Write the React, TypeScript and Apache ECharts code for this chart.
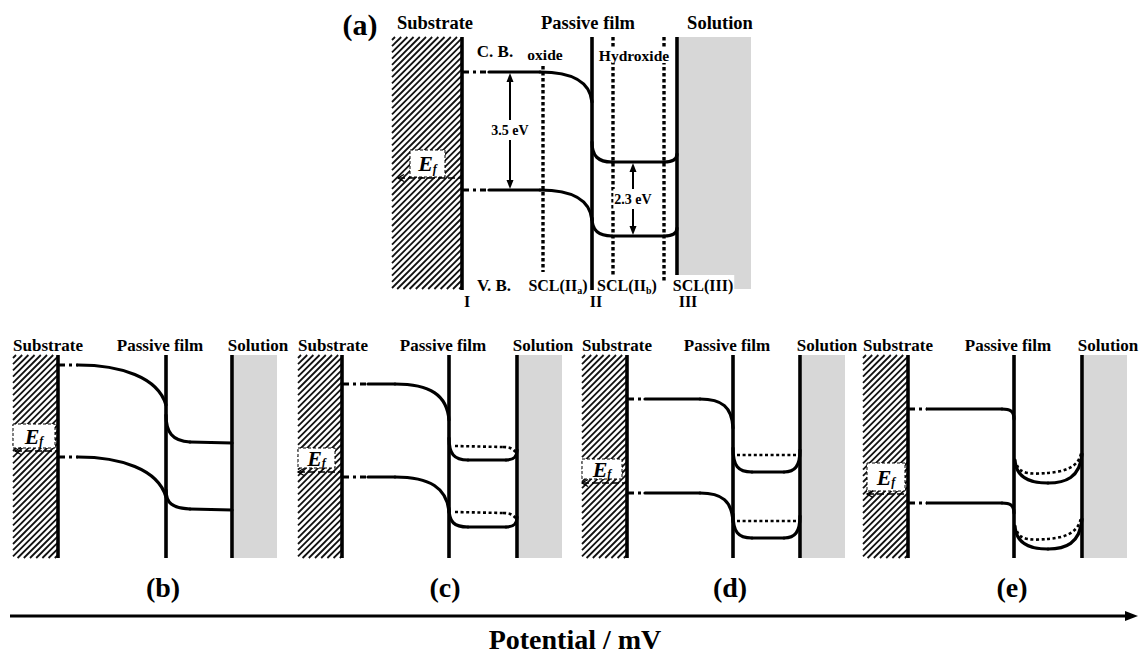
import React, { useEffect, useRef } from "react";
import * as echarts from "echarts";

const W = 1148;
const H = 657;
const FONT = "'Liberation Serif', 'Times New Roman', serif";

// ---------------- Data (diagram units, y grows downward) ----------------
// interfaces I / II / III : [x, yTop, yBottom]
const interfaceLines = [
  [462, 37, 290], [592, 37, 290], [677, 37, 290],
  [58, 355, 558], [166, 355, 558], [232, 355, 558],
  [342, 355, 558], [449, 355, 558], [517, 355, 558],
  [627, 355, 558], [733, 355, 558], [800, 355, 558],
  [908, 355, 558], [1014, 355, 558], [1082, 355, 558],
];
// space-charge-layer boundaries in (a): [x, yTop, yBottom]
const sclLines = [[543, 66, 272], [613, 37, 282], [664, 37, 282]];
// substrate (hatched) and solution (stippled) regions: [x0, y0, x1, y1]
const substrates = [
  [392, 37, 462, 289], [13, 355, 58, 558], [298, 355, 342, 558],
  [582, 355, 627, 558], [863, 355, 908, 558],
];
const solutions = [
  [679, 37, 751, 289], [234, 355, 277, 558], [519, 355, 562, 558],
  [802, 355, 845, 558], [1084, 355, 1127, 558],
];
// Fermi level markers: [boxX0, boxY0, boxX1, boxY1, lineX0, lineX1, lineY]
const fermiMarkers = [
  [410, 150, 445, 177, 398, 462, 178],
  [13, 424, 55, 448, 15, 58, 451],
  [298, 448, 335, 468, 298, 342, 472],
  [582, 459, 622, 479, 582, 627, 483],
  [867, 463, 905, 491, 867, 908, 494],
];
// band-gap arrows: [x, yTop, yBottom]
const gapArrows = [[510, 73, 189], [633, 163, 235]];
// potential axis: [x0, x1, y]
const potentialAxis = [[10, 1138, 616]];

// flat band stubs at the metal/oxide interface (dash-dot): [[x0,y],[x1,y]]
const stubs = [
  [[463, 72], [489, 72]], [[463, 190], [489, 190]],
  [[59, 365], [78, 365]], [[59, 457], [78, 457]],
  [[343, 384], [368, 384]], [[343, 477], [368, 477]],
  [[628, 399], [645, 399]], [[628, 493], [645, 493]],
  [[909, 409], [927, 409]], [[909, 503], [927, 503]],
];

// Band edges: first entry = start point, then [x, y] straight segment
// or [c1x, c1y, c2x, c2y, x, y] curved (cubic) segment.
// (a) steady state
const aCbOxide = [[489, 72], [540, 72], [572, 72, 590, 82, 592, 102]];
const aCbHydroxide = [[592, 142], [592, 156, 598, 162, 612, 162], [664, 162], [672, 162, 677, 160, 677, 154]];
const aVbOxide = [[489, 190], [540, 190], [572, 190, 590, 200, 592, 220]];
const aVbHydroxide = [[592, 218], [592, 230, 598, 236, 612, 236], [664, 236], [672, 236, 677, 234, 677, 228]];
// (b)
const bCbOxide = [[78, 365], [120, 365, 158, 377, 166, 405]];
const bCbHydroxide = [[166, 415], [166, 432, 172, 441, 190, 442], [232, 443]];
const bVbOxide = [[78, 457], [120, 457, 158, 469, 166, 497]];
const bVbHydroxide = [[166, 490], [166, 503, 172, 508, 190, 509], [232, 510]];
// (c)
const cCbOxide = [[368, 384], [395, 384], [430, 384, 447, 395, 449, 420]];
const cCbHydroxide = [[449, 438], [449, 454, 454, 460, 468, 460], [506, 460], [514, 460, 517, 457, 517, 450]];
const cCbShifted = [[455, 446], [503, 447], [510, 447, 514, 449, 516, 453]];
const cVbOxide = [[368, 477], [395, 477], [430, 477, 447, 488, 449, 512]];
const cVbHydroxide = [[449, 508], [449, 522, 454, 527, 468, 527], [506, 527], [514, 527, 517, 524, 517, 517]];
const cVbShifted = [[455, 512], [503, 513], [510, 513, 514, 515, 516, 519]];
// (d)
const dCbOxide = [[645, 399], [700, 399], [722, 399, 732, 407, 733, 428]];
const dCbHydroxide = [[733, 448], [733, 466, 738, 472, 752, 472], [784, 472], [795, 472, 800, 466, 800, 450]];
const dCbShifted = [[737, 455], [797, 455]];
const dVbOxide = [[645, 493], [700, 493], [722, 493, 732, 501, 733, 522]];
const dVbHydroxide = [[733, 514], [733, 532, 738, 538, 752, 538], [784, 538], [795, 538, 800, 532, 800, 516]];
const dVbShifted = [[737, 521], [797, 521]];
// (e)
const eCbOxide = [[927, 409], [1002, 409], [1010, 409, 1014, 411, 1014, 419]];
const eCbHydroxide = [[1015, 460], [1016, 480, 1035, 483, 1048, 483], [1065, 483, 1080, 478, 1082, 454]];
const eCbShifted = [[1017, 465], [1020, 475, 1035, 474, 1047, 473], [1062, 472, 1079, 468, 1081, 453]];
const eVbOxide = [[927, 503], [1002, 503], [1010, 503, 1014, 505, 1014, 513]];
const eVbHydroxide = [[1015, 526], [1016, 546, 1035, 549, 1048, 549], [1065, 549, 1080, 544, 1082, 519]];
const eVbShifted = [[1017, 531], [1020, 541, 1035, 540, 1047, 539], [1062, 538, 1079, 534, 1081, 517]];

const solidBands = [
  aCbOxide, aCbHydroxide, aVbOxide, aVbHydroxide,
  bCbOxide, bCbHydroxide, bVbOxide, bVbHydroxide,
  cCbOxide, cCbHydroxide, cVbOxide, cVbHydroxide,
  dCbOxide, dCbHydroxide, dVbOxide, dVbHydroxide,
  eCbOxide, eCbHydroxide, eVbOxide, eVbHydroxide,
];
const shiftedBands = [cCbShifted, cVbShifted, dCbShifted, dVbShifted, eCbShifted, eVbShifted];

// texts
const panelLetters = ["(b)", "(c)", "(d)", "(e)"];
const panelLetterX = [163, 445, 730, 1012];
const regionNames = ["Substrate", "Passive film", "Solution"];
const regionNameX = [
  [48, 160, 258], [333, 443, 543], [617, 727, 827], [898, 1008, 1108],
];

// ---------------- helpers ----------------
const boldText = (text: string, x: number, y: number, size: number, extra: any = {}) => ({
  type: "text",
  x,
  y,
  z: 100,
  silent: true,
  style: {
    text,
    fontFamily: FONT,
    fontWeight: "bold",
    fontSize: size,
    fill: "#000",
    align: "center",
    verticalAlign: "middle",
    ...extra,
  },
});

const subText = (main: string, sub: string, tail: string, x: number, y: number, extra: any = {}) => ({
  type: "text",
  x,
  y,
  z: 100,
  silent: true,
  style: {
    text: sub ? `{n|${main}}{s|${sub}}{n|${tail}}` : `{n|${main}}`,
    align: "center",
    verticalAlign: "middle",
    rich: {
      n: { fontFamily: FONT, fontWeight: "bold", fontSize: 16, lineHeight: 20, fill: "#000" },
      s: { fontFamily: FONT, fontWeight: "bold", fontSize: 10, fill: "#000", verticalAlign: "bottom" },
    },
    ...extra,
  },
});

function renderVLine(width: number, dash: any) {
  return (params: any, api: any) => {
    const a = api.coord([api.value(0), api.value(1)]);
    const b = api.coord([api.value(0), api.value(2)]);
    return {
      type: "line",
      shape: { x1: a[0], y1: a[1], x2: b[0], y2: b[1] },
      style: { stroke: "#000", lineWidth: width, lineDash: dash, fill: null },
    };
  };
}

function rectPx(api: any) {
  const p0 = api.coord([api.value(0), api.value(1)]);
  const p1 = api.coord([api.value(2), api.value(3)]);
  return {
    x0: Math.min(p0[0], p1[0]),
    x1: Math.max(p0[0], p1[0]),
    y0: Math.min(p0[1], p1[1]),
    y1: Math.max(p0[1], p1[1]),
  };
}

function renderHatch(params: any, api: any) {
  const { x0, x1, y0, y1 } = rectPx(api);
  const children: any[] = [
    { type: "rect", shape: { x: x0, y: y0, width: x1 - x0, height: y1 - y0 }, style: { fill: "#fff" } },
  ];
  for (let c = x0 + y0 + 3; c < x1 + y1; c += 6.2) {
    const xa = Math.max(x0, c - y1);
    const xb = Math.min(x1, c - y0);
    if (xb - xa > 0.5) {
      children.push({
        type: "line",
        shape: { x1: xa, y1: c - xa, x2: xb, y2: c - xb },
        style: { stroke: "#111", lineWidth: 1.8 },
      });
    }
  }
  return { type: "group", children };
}

function renderSolution(params: any, api: any) {
  const { x0, x1, y0, y1 } = rectPx(api);
  return {
    type: "rect",
    shape: { x: x0, y: y0, width: x1 - x0, height: y1 - y0 },
    style: { fill: "#d7d7d7" },
  };
}

function renderBand(list: number[][][], shifted: boolean) {
  return (params: any, api: any) => {
    const pts = list[params.dataIndex];
    const style = shifted
      ? { stroke: "#000", lineWidth: 2.6, lineDash: [3, 2.6], fill: null, lineCap: "butt" }
      : { stroke: "#000", lineWidth: 3.2, fill: null, lineCap: "round" };
    const children: any[] = [];
    let cur = api.coord([pts[0][0], pts[0][1]]);
    for (let i = 1; i < pts.length; i++) {
      const s = pts[i];
      if (s.length === 2) {
        const p = api.coord([s[0], s[1]]);
        children.push({ type: "line", shape: { x1: cur[0], y1: cur[1], x2: p[0], y2: p[1] }, style });
        cur = p;
      } else {
        const c1 = api.coord([s[0], s[1]]);
        const c2 = api.coord([s[2], s[3]]);
        const p = api.coord([s[4], s[5]]);
        children.push({
          type: "bezierCurve",
          shape: { x1: cur[0], y1: cur[1], cpx1: c1[0], cpy1: c1[1], cpx2: c2[0], cpy2: c2[1], x2: p[0], y2: p[1] },
          style,
        });
        cur = p;
      }
    }
    return { type: "group", children };
  };
}

function renderFermi(params: any, api: any) {
  const { x0, x1, y0, y1 } = rectPx(api);
  const la = api.coord([api.value(4), api.value(6)]);
  const lb = api.coord([api.value(5), api.value(6)]);
  const ly = la[1];
  return {
    type: "group",
    children: [
      {
        type: "rect",
        shape: { x: x0, y: y0, width: x1 - x0, height: y1 - y0 },
        style: { fill: "#fff", stroke: "#000", lineWidth: 1, lineDash: [3, 2] },
      },
      {
        type: "line",
        shape: { x1: la[0], y1: ly, x2: lb[0], y2: ly },
        style: { stroke: "#000", lineWidth: 1.6, lineDash: [7, 3] },
      },
      {
        type: "polyline",
        shape: { points: [[la[0] + 6, ly - 3.5], [la[0], ly], [la[0] + 6, ly + 3.5]] },
        style: { stroke: "#000", lineWidth: 1.3, fill: null },
      },
      {
        type: "text",
        x: (x0 + x1) / 2,
        y: (y0 + y1) / 2,
        style: {
          text: "{e|E}{f|f}",
          align: "center",
          verticalAlign: "middle",
          rich: {
            e: { fontFamily: FONT, fontStyle: "italic", fontWeight: "bold", fontSize: 22, lineHeight: 22, fill: "#000" },
            f: { fontFamily: FONT, fontStyle: "italic", fontWeight: "bold", fontSize: 12, fill: "#000", verticalAlign: "bottom" },
          },
        },
      },
    ],
  };
}

function renderGapArrow(params: any, api: any) {
  const a = api.coord([api.value(0), api.value(1)]);
  const b = api.coord([api.value(0), api.value(2)]);
  const x = a[0];
  const hw = 3.5;
  const hl = 9;
  return {
    type: "group",
    children: [
      { type: "line", shape: { x1: x, y1: a[1] + hl - 1, x2: x, y2: b[1] - hl + 1 }, style: { stroke: "#000", lineWidth: 2 } },
      { type: "polygon", shape: { points: [[x, a[1]], [x - hw, a[1] + hl], [x + hw, a[1] + hl]] }, style: { fill: "#000" } },
      { type: "polygon", shape: { points: [[x, b[1]], [x - hw, b[1] - hl], [x + hw, b[1] - hl]] }, style: { fill: "#000" } },
    ],
  };
}

function renderAxisArrow(params: any, api: any) {
  const a = api.coord([api.value(0), api.value(2)]);
  const b = api.coord([api.value(1), api.value(2)]);
  const y = a[1];
  return {
    type: "group",
    children: [
      { type: "line", shape: { x1: a[0], y1: y, x2: b[0] - 10, y2: y }, style: { stroke: "#000", lineWidth: 3 } },
      { type: "polygon", shape: { points: [[b[0], y], [b[0] - 13, y - 5], [b[0] - 13, y + 5]] }, style: { fill: "#000" } },
    ],
  };
}

const customSeries = (data: any[], renderItem: any, z: number) => ({
  type: "custom",
  data,
  renderItem,
  z,
  silent: true,
  clip: false,
  animation: false,
});

const stubSeries = (data: number[][]) => ({
  type: "line",
  data,
  symbol: "none",
  showSymbol: false,
  silent: true,
  z: 5,
  animation: false,
  lineStyle: { color: "#000", width: 3.2, type: [6, 4, 3, 4], cap: "butt" },
});

export default function App() {
  const ref = useRef<HTMLDivElement>(null);

  useEffect(() => {
    document.body.style.margin = "0";
    const chart = echarts.init(ref.current as HTMLDivElement, undefined, { renderer: "svg" });

    const graphics: any[] = [
      boldText("(a)", 360, 24, 30),
      boldText("Substrate", 435, 23, 18.5),
      boldText("Passive film", 588, 23, 18.5),
      boldText("Solution", 720, 23, 18.5),
      boldText("C. B.", 495, 51, 17),
      boldText("oxide", 545, 54, 15.5),
      boldText("Hydroxide", 634, 55, 15.5, { backgroundColor: "#fff", padding: [0, 1] }),
      boldText("3.5 eV", 510, 130, 14, { backgroundColor: "#fff", padding: [3, 1] }),
      boldText("2.3 eV", 633, 199, 14, { backgroundColor: "#fff", padding: [3, 1] }),
      boldText("V. B.", 494, 285, 17),
      subText("SCL(II", "a", ")", 558, 285, { backgroundColor: "#fff" }),
      subText("SCL(II", "b", ")", 627, 285, { backgroundColor: "#fff" }),
      subText("SCL(III)", "", "", 703, 285, { backgroundColor: "#fff", padding: [0, 1] }),
      boldText("I", 467, 301, 16),
      boldText("II", 596, 301, 16),
      boldText("III", 688, 301, 16),
      boldText("Potential / mV", 575, 639, 28),
    ];
    panelLetters.forEach((t, i) => graphics.push(boldText(t, panelLetterX[i], 587, 28)));
    regionNameX.forEach((xs) =>
      xs.forEach((x, j) => graphics.push(boldText(regionNames[j], x, 345, 17)))
    );

    const idx = (list: any[]) => list.map((_, i) => [i, 0]);

    const series: any[] = [
      customSeries(solutions, renderSolution, 1),
      customSeries(substrates, renderHatch, 1),
      customSeries(sclLines, renderVLine(3.4, [3.4, 2.6]), 2),
      ...stubs.map((s) => stubSeries(s)),
      customSeries(idx(solidBands), renderBand(solidBands, false), 5),
      customSeries(idx(shiftedBands), renderBand(shiftedBands, true), 5),
      customSeries(interfaceLines, renderVLine(3.6, null), 6),
      customSeries(fermiMarkers, renderFermi, 7),
      customSeries(gapArrows, renderGapArrow, 7),
      customSeries(potentialAxis, renderAxisArrow, 7),
    ];

    chart.setOption({
      animation: false,
      backgroundColor: "#fff",
      grid: { left: 0, right: 0, top: 0, bottom: 0, containLabel: false },
      xAxis: { type: "value", min: 0, max: W, show: false },
      yAxis: { type: "value", min: 0, max: H, inverse: true, show: false },
      series,
      graphic: graphics,
    });

    return () => chart.dispose();
  }, []);

  return <div ref={ref} style={{ width: W, height: H }} />;
}
